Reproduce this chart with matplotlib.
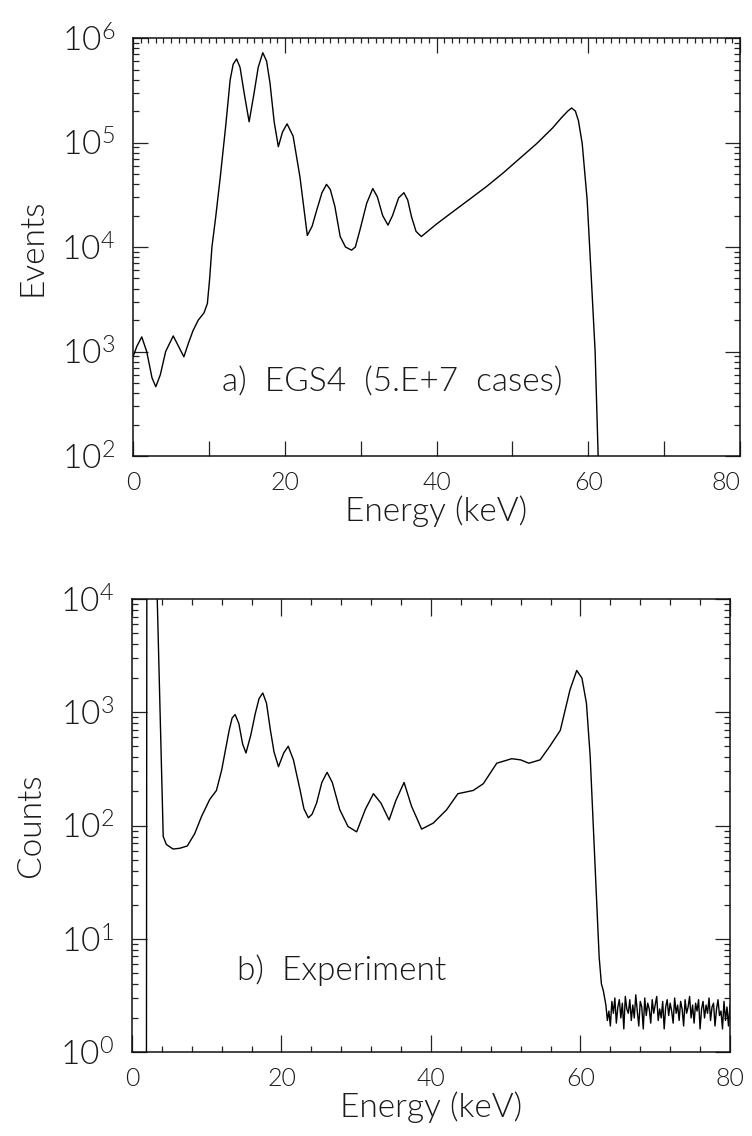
import math
import matplotlib
matplotlib.use("Agg")
import matplotlib.pyplot as plt
from matplotlib.ticker import MultipleLocator, LogLocator, FuncFormatter, NullFormatter

plt.rcParams['font.family'] = ['Lato', 'DejaVu Sans']
plt.rcParams['font.weight'] = 300
plt.rcParams['axes.labelweight'] = 300
plt.rcParams['mathtext.default'] = 'regular'

# ---- panel a) EGS4 simulation ----
sim_energy = [0, 0.5, 1.15, 1.8, 2.5, 3.0, 3.6, 4.3, 5.3, 6.0, 6.7, 7.3, 7.9, 8.6, 9.35, 9.8,
              10.1, 10.4, 10.9, 11.5, 12.2, 12.8, 13.2, 13.65, 14.1, 14.7, 15.3, 15.9, 16.5,
              17.1, 17.6, 18.05, 18.6, 19.15, 19.7, 20.3, 21.1, 22.0, 22.97, 23.6, 24.2, 24.9,
              25.5, 26.0, 26.6, 27.3, 28.0, 28.8, 29.3, 29.9, 30.8, 31.6, 32.2, 32.9, 33.6,
              34.2, 35.0, 35.7, 36.2, 36.7, 37.3, 38.0, 40.0, 42.2, 44.4, 46.6, 48.8, 51.0,
              53.2, 55.3, 56.5, 57.3, 57.8, 58.3, 58.7, 59.2, 59.85, 60.4, 60.9, 61.3, 61.5,
              62.0, 80.0]
sim_events = [890, 1120, 1380, 1000, 560, 460, 600, 1000, 1410, 1120, 890, 1200, 1580, 2000,
              2340, 2880, 5000, 10000, 19500, 46800, 141000, 398000, 562000, 631000, 525000,
              282000, 158000, 282000, 525000, 724000, 603000, 372000, 158000, 91200, 126000,
              151000, 115000, 46800, 12900, 15800, 22400, 33100, 39800, 35500, 24500, 12600,
              10000, 9330, 10000, 14500, 26300, 36300, 30200, 20000, 16200, 20000, 29500,
              33100, 28200, 19500, 14100, 12600, 16600, 21900, 28800, 38000, 51300, 70800,
              97700, 138000, 174000, 200000, 214000, 200000, 162000, 97700, 28200, 5000, 1000,
              100, 10, 1, 1]

# ---- panel b) experiment ----
exp_energy = [0, 1.9, 2.0, 3.2, 3.38, 3.8, 4.18, 4.6, 5.5, 6.4, 7.4, 8.4, 9.3, 10.4, 11.3,
              12.0, 13.0, 13.4, 13.8, 14.3, 14.8, 15.25, 15.9, 16.5, 17.0, 17.5, 18.0, 18.5,
              19.0, 19.6, 20.3, 20.9, 21.6, 22.5, 23.0, 23.6, 24.1, 24.7, 25.4, 26.1, 26.8,
              27.8, 28.9, 30.06, 31.2, 32.3, 33.3, 34.4, 35.3, 36.4, 37.4, 38.75, 40.3, 42.1,
              43.6, 45.65, 47.0, 48.8, 50.8, 52.0, 53.1, 54.6, 55.9, 57.3, 58.6, 59.5, 60.2,
              60.8, 61.3, 61.9, 62.5, 62.8, 63.05]
exp_counts = [0.001, 0.001, 100000, 100000, 10000, 800, 80, 68, 62, 63, 66, 85, 120, 170, 204,
              309, 692, 891, 955, 794, 525, 437, 631, 977, 1320, 1480, 1200, 708, 447, 331,
              437, 501, 380, 204, 141, 117, 126, 158, 240, 295, 240, 138, 98, 88, 138, 191,
              158, 112, 166, 240, 148, 93, 105, 138, 191, 204, 234, 355, 389, 380, 355, 380,
              501, 692, 1580, 2340, 2000, 1200, 407, 52, 6.9, 4.0, 3.5]
# noisy floor above 63 keV (0.2 keV steps from 63.4 keV)
floor_start = 63.4
floor_step = 0.2
floor_counts = [2.6, 1.9, 2.3, 1.7, 2.8, 2.2, 3.0, 1.8, 2.5, 2.9, 2.0, 2.7, 1.6, 3.1, 2.4, 2.2,
                2.9, 1.9, 2.6, 2.0, 3.2, 2.3, 1.7, 2.8, 2.5, 1.6, 3.0, 2.1, 2.7, 2.4, 1.8, 2.9,
                2.2, 2.6, 3.1, 1.9, 2.4, 2.0, 2.8, 1.6, 2.5, 2.9, 2.1, 2.7, 2.3, 1.8, 3.0, 2.2,
                2.6, 1.9, 2.8, 2.4, 1.7, 2.9, 2.2, 2.5, 3.1, 2.0, 2.6, 1.8, 2.7, 2.3, 2.9, 1.6,
                2.4, 2.8, 2.0, 2.6, 2.2, 3.0, 1.9, 2.5, 2.7, 1.7, 2.4, 2.9, 2.1, 2.3, 1.6, 2.8,
                1.9, 2.5, 1.7, 2.6]
floor_energy = [floor_start + i * floor_step for i in range(len(floor_counts))]

xticks = [0, 20, 40, 60, 80]
xticks_10 = [10, 30, 50, 70]
xlabel = "Energy (keV)"
label_a = "a)  EGS4  (5.E+7  cases)"
label_b = "b)  Experiment"

TXT = '#1a1a1a'
fig = plt.figure(figsize=(7.52, 11.36), dpi=100)
ax1 = fig.add_axes([0.1769, 0.5986, 0.8072, 0.3679])
ax2 = fig.add_axes([0.1755, 0.0739, 0.7952, 0.3988])


def decade_fmt(v, pos):
    e = int(round(math.log10(v)))
    return r'$10^{%d}$' % e


for ax in (ax1, ax2):
    ax.set_yscale('log')
    ax.set_xlim(0, 80)
    ax.set_xticks(xticks)
    ax.yaxis.set_major_locator(LogLocator(base=10, numticks=20))
    ax.yaxis.set_minor_locator(LogLocator(base=10, subs=range(2, 10), numticks=20))
    ax.yaxis.set_major_formatter(FuncFormatter(decade_fmt))
    ax.yaxis.set_minor_formatter(NullFormatter())
    for s in ax.spines.values():
        s.set_linewidth(1.1)
        s.set_color('#111111')
    ax.tick_params(axis='both', which='both', direction='in', color='#222222', width=0.9)
    ax.tick_params(axis='y', which='both', left=True, right=True)
    ax.tick_params(axis='y', which='major', length=11, labelsize=24, pad=13, labelcolor=TXT)
    ax.tick_params(axis='y', which='minor', length=4.5)
    ax.tick_params(axis='x', which='major', labelsize=18, pad=11, labelcolor=TXT)
    ax.set_xlabel(xlabel, fontsize=24, color=TXT, labelpad=0)

# panel a
ax1.plot(sim_energy, sim_events, color='black', lw=1.0)
ax1.set_ylim(1e2, 1e6)
ax1.xaxis.set_minor_locator(MultipleLocator(1))
ax1.tick_params(axis='x', which='major', length=11, top=True, bottom=True)
ax1.tick_params(axis='x', which='minor', length=3.5, top=True, bottom=False)
sec = ax1.secondary_xaxis('bottom')
sec.set_xticks(xticks_10)
sec.tick_params(direction='in', length=11, width=0.9, labelbottom=False, color='#222222')
sec.spines['bottom'].set_visible(False)
ax1.set_ylabel("Events", fontsize=24, color=TXT, labelpad=10)
ax1.text(0.147, 0.177, label_a, transform=ax1.transAxes, fontsize=24, color=TXT,
         ha='left', va='center')
# keep the "80" label inside the figure, as in the reference
ax1.xaxis.get_major_ticks()[-1].label1.set_horizontalalignment('right')

# panel b
ax2.plot(exp_energy + floor_energy, exp_counts + floor_counts, color='black', lw=1.0)
ax2.set_ylim(1e0, 1e4)
ax2.xaxis.set_minor_locator(MultipleLocator(4))
ax2.tick_params(axis='x', which='both', top=True, bottom=True)
ax2.tick_params(axis='x', which='major', length=12)
ax2.tick_params(axis='x', which='minor', length=4.5)
ax2.set_ylabel("Counts", fontsize=24, color=TXT, labelpad=10)
ax2.text(0.175, 0.181, label_b, transform=ax2.transAxes, fontsize=24, color=TXT,
         ha='left', va='center')

fig.savefig("out.png", dpi=100)
